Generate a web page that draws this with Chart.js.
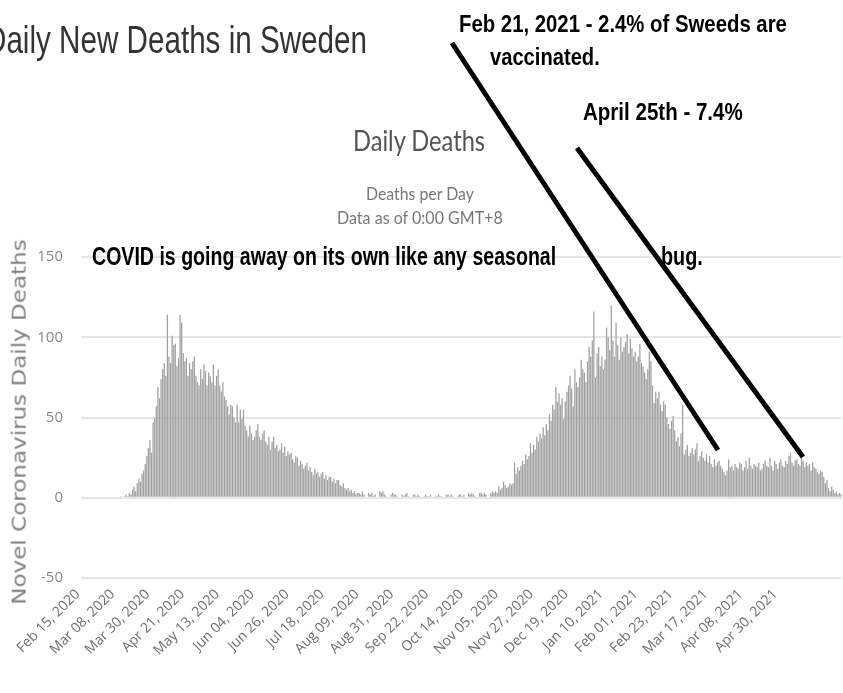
<!DOCTYPE html>
<html>
<head>
<meta charset="utf-8">
<title>Daily New Deaths in Sweden</title>
<script src="https://cdn.jsdelivr.net/npm/chart.js@4.4.0/dist/chart.umd.min.js"></script>
<style>
    html, body { margin: 0; padding: 0; background: #fff; overflow: hidden; }
    #wrap { position: relative; width: 843px; height: 693px; }
    #wrap canvas { position: absolute; left: 0; top: 0; }
    .txt { position: absolute; white-space: nowrap; line-height: 1; transform-origin: 0 0; }
    .note { font-family: 'Liberation Sans Narrow', 'Liberation Sans', sans-serif; font-weight: bold; font-size: 24px; color: #000; }
    .sub { font-family: Lato, sans-serif; color: #777; font-size: 17px; }
</style>
</head>
<body>
<div id="wrap">
    <canvas id="chartDeaths" width="843" height="693"></canvas>

    <div class="txt fit" data-w="382" style="left:-15px; top:21px; font-family:'Liberation Sans',sans-serif; font-size:38px; color:#333;">Daily New Deaths in Sweden</div>

    <div class="txt fit" data-w="132" style="left:353px; top:125px; font-family:Lato,sans-serif; font-size:29px; color:#555;">Daily Deaths</div>
    <div class="txt sub fit" data-w="108" style="left:366px; top:185px;">Deaths per Day</div>
    <div class="txt sub fit" data-w="166" style="left:337px; top:209px;">Data as of 0:00 GMT+8</div>

    <div class="txt note fit" data-w="328" style="left:459px; top:12px;">Feb 21, 2021 - 2.4% of Sweeds are</div>
    <div class="txt note fit" data-w="110" style="left:490px; top:45px;">vaccinated.</div>
    <div class="txt note fit" data-w="160" style="left:583px; top:100px;">April 25th - 7.4%</div>
    <div class="txt note fit" data-w="464" style="left:92px; top:244px; font-size:25px;">COVID is going away on its own like any seasonal</div>
    <div class="txt note fit" data-w="42" style="left:661px; top:244px; font-size:25px;">bug.</div>

    <div id="yTitle" class="txt" style="font-family:'DejaVu Sans',sans-serif; font-size:20px; color:#808080;">Novel Coronavirus Daily Deaths</div>
</div>

<script>
// Datos: muertes diarias (Suecia), desde el 15 feb 2020
const startDate = new Date(2020, 1, 15);

// 15 feb - 7 ago 2020 (primera ola)
const wave1Deaths = [
    0, 0, 0, 0, 0, 0, 0, 0, 0, 0,
    0, 0, 0, 0, 0, 0, 0, 0, 0, 0,
    0, 0, 0, 0, 0,
    1, 0, 1, 2, 1, 3, 2, 5, 7, 4,
    9, 12, 10, 15, 17, 21, 26, 31, 36, 28,
    47, 50, 57, 69, 62, 74, 80, 84, 76, 114,
    88, 84, 101, 95, 96, 82, 87, 114, 109, 90,
    85, 87, 76, 84, 80, 85, 88, 76, 72, 70,
    80, 74, 83, 79, 70, 78, 76, 72, 83, 70,
    76, 80, 70, 66, 72, 63, 61, 57, 52, 58,
    57, 50, 47, 58, 47, 55, 49, 55, 45, 42,
    38, 45, 40, 36, 38, 42, 46, 38, 36, 40,
    42, 35, 33, 38, 30, 35, 38, 31, 33, 29,
    30, 34, 28, 32, 26, 29, 27, 28, 24, 22,
    26, 25, 20, 23, 21, 18, 20, 22, 17, 19,
    16, 14, 18, 15, 16, 13, 15, 16, 12, 14,
    11, 13, 13, 10, 12, 9, 11, 11, 8, 7,
    9, 6, 5, 6, 4, 5, 3, 4, 2, 3
];

// verano / otoño 2020 (casi cero, sin datos los fines de semana)
const summerDeaths = [
    3, 2, 4, 2, 0, 0, 3,
    2, 3, 1, 2, 0, 0, 4,
    3, 4, 2, 1, 0, 0, 2,
    3, 2, 2, 1, 0, 0, 2,
    1, 2, 3, 1, 0, 0, 2,
    2, 1, 2, 1, 0, 0, 1,
    2, 1, 1, 2, 0, 0, 1,
    1, 2, 1, 1, 0, 0, 2,
    2, 1, 2, 1, 0, 0, 1,
    2, 2, 1, 2, 0, 0, 3,
    2, 3, 2, 1, 0, 0, 3,
    3, 2, 3, 2, 0, 0, 3,
    4, 3, 4, 3
];

// segunda ola hasta 8 jun 2021
const wave2Deaths = [
    7, 5, 6, 10, 8, 6, 7, 9, 8, 9,
    22, 15, 19, 17, 20, 23, 21, 27, 24, 26,
    34, 28, 33, 30, 38, 35, 40, 37, 44, 39,
    46, 42, 52, 48, 58, 55, 69, 60, 65, 58,
    62, 49, 60, 66, 70, 76, 68, 57, 80, 72,
    69, 75, 86, 80, 78, 72, 85, 94, 88, 98,
    116, 75, 90, 94, 82, 88, 80, 86, 106, 100,
    92, 120, 98, 88, 109, 95, 86, 100, 91, 94,
    97, 102, 90, 99, 93, 88, 91, 85, 88, 96,
    84, 82, 78, 74, 80, 91, 85, 70, 59, 66,
    62, 66, 58, 54, 60, 58, 50, 46, 43, 48,
    51, 42, 35, 38, 32, 40, 58, 27, 30, 33,
    26, 28, 31, 27, 30, 34, 23, 26, 29, 25,
    23, 27, 22, 26, 21, 19, 24, 20, 22, 23,
    20, 18, 16, 14, 17, 24, 19, 20, 17, 21,
    19, 18, 22, 21, 17, 19, 23, 18, 25, 20,
    18, 21, 20, 19, 22, 17, 18, 21, 23, 20,
    19, 25, 20, 17, 23, 21, 18, 22, 24, 20,
    19, 23, 21, 26, 28, 22, 20, 23, 24, 21,
    20, 25, 23, 19, 22, 20, 21, 17, 22, 19,
    18, 16, 15, 17, 16, 13, 9, 11, 6, 4,
    7, 5, 3, 4, 2, 3, 2
];

// etiquetas del eje X (cada 22 días)
const tickLabels = [
    'Feb 15, 2020', 'Mar 08, 2020', 'Mar 30, 2020', 'Apr 21, 2020', 'May 13, 2020',
    'Jun 04, 2020', 'Jun 26, 2020', 'Jul 18, 2020', 'Aug 09, 2020', 'Aug 31, 2020',
    'Sep 22, 2020', 'Oct 14, 2020', 'Nov 05, 2020', 'Nov 27, 2020', 'Dec 19, 2020',
    'Jan 10, 2021', 'Feb 01, 2021', 'Feb 23, 2021', 'Mar 17, 2021', 'Apr 08, 2021',
    'Apr 30, 2021'
];
const tickEvery = 22;

const yTicks = [-50, 0, 50, 100, 150];

const deaths = wave1Deaths.concat(summerDeaths, wave2Deaths);

const meses = ['Jan', 'Feb', 'Mar', 'Apr', 'May', 'Jun', 'Jul', 'Aug', 'Sep', 'Oct', 'Nov', 'Dec'];
const dias = deaths.map((_, i) => {
    const d = new Date(startDate.getTime());
    d.setDate(d.getDate() + i);
    return `${meses[d.getMonth()]} ${String(d.getDate()).padStart(2, '0')}, ${d.getFullYear()}`;
});

// Lineas negras dibujadas a mano encima del grafico
const lineasVacuna = {
    id: 'lineasVacuna',
    afterDraw(chart) {
        const ctx = chart.ctx;
        ctx.save();
        ctx.strokeStyle = '#000';
        ctx.lineWidth = 5;
        ctx.beginPath();
        ctx.moveTo(452, 43);
        ctx.lineTo(718, 450);
        ctx.moveTo(577, 148);
        ctx.lineTo(803, 457);
        ctx.stroke();
        ctx.restore();
    }
};

let chartDeaths = null;

function cargarGrafico() {
    const ctx = document.getElementById('chartDeaths').getContext('2d');
    if (chartDeaths) chartDeaths.destroy();

    chartDeaths = new Chart(ctx, {
        type: 'bar',
        data: {
            labels: dias,
            datasets: [{
                label: 'Deaths per Day',
                data: deaths,
                backgroundColor: '#a0a0a0',
                barPercentage: 0.8,
                categoryPercentage: 1
            }]
        },
        options: {
            responsive: false,
            animation: false,
            layout: { padding: { top: 257, right: 1, left: 0, bottom: 0 } },
            plugins: {
                legend: { display: false },
                tooltip: { enabled: false }
            },
            scales: {
                x: {
                    grid: { display: false },
                    border: { display: false },
                    ticks: {
                        autoSkip: false,
                        maxRotation: 45,
                        minRotation: 45,
                        padding: 0,
                        labelOffset: -4,
                        color: '#6e6e6e',
                        font: { family: 'Open Sans', size: 14 },
                        callback: (v, i) => (i % tickEvery === 0 && tickLabels[i / tickEvery]) ? tickLabels[i / tickEvery] : null
                    },
                    afterFit: (scale) => { scale.height = 115; }
                },
                y: {
                    min: -50,
                    max: 150,
                    afterBuildTicks: (scale) => { scale.ticks = yTicks.map(v => ({ value: v })); },
                    grid: { color: '#e6e6e6', lineWidth: 2, drawTicks: false },
                    border: { display: false },
                    ticks: {
                        padding: 18,
                        color: '#888',
                        font: { family: 'Open Sans', size: 15 }
                    },
                    afterFit: (scale) => { scale.width = 81; }
                }
            }
        },
        plugins: [lineasVacuna]
    });
}

function ajustarTextos() {
    document.querySelectorAll('.fit').forEach(el => {
        const s = parseFloat(el.dataset.w) / el.offsetWidth;
        el.style.transform = `scaleX(${s})`;
    });

    const yTitle = document.getElementById('yTitle');
    const w = yTitle.offsetWidth;
    const h = yTitle.offsetHeight;
    yTitle.style.left = (18 - w / 2) + 'px';
    yTitle.style.top = (422 - h / 2) + 'px';
    yTitle.style.transformOrigin = '50% 50%';
    yTitle.style.transform = `rotate(-90deg) scaleX(${365 / w})`;
}

document.addEventListener('DOMContentLoaded', () => {
    cargarGrafico();
    document.fonts.ready.then(ajustarTextos);
});
</script>
</body>
</html>
